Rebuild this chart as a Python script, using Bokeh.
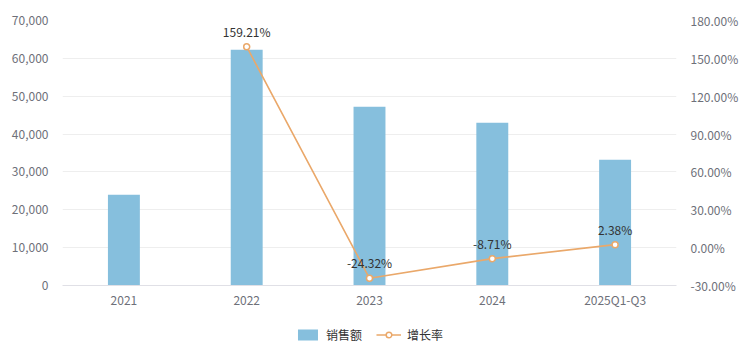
from bokeh.plotting import figure
from bokeh.layouts import column
from bokeh.models import (ColumnDataSource, Range1d, LinearAxis, FixedTicker,
                          NumeralTickFormatter, PrintfTickFormatter, Legend, LegendItem, FactorRange)
from bokeh.embed import file_html
from bokeh.resources import INLINE
from bokeh.core.properties import value

years = ["2021", "2022", "2023", "2024", "2025Q1-Q3"]
sales = [24000, 62300, 47200, 43000, 33200]
growth = [None, 159.21, -24.32, -8.71, 2.38]
series_names = ["销售额", "增长率"]

FONT = "Noto Sans CJK SC"
BAR_COLOR = "#86bfdd"
LINE_COLOR = "#eaa86a"
TEXT_COLOR = "#6e7079"

p = figure(x_range=FactorRange(*years), y_range=Range1d(0, 70000),
           frame_width=614, frame_height=265,
           min_border_left=62, min_border_right=80, min_border_top=20, min_border_bottom=38,
           output_backend="svg", toolbar_location=None, tools="")
p.outline_line_color = None
p.background_fill_color = "white"
p.border_fill_color = "white"

p.extra_y_ranges = {"pct": Range1d(-30, 180)}

bar_src = ColumnDataSource(dict(x=years, y=sales))
p.vbar(x="x", top="y", width=0.26, source=bar_src, fill_color=BAR_COLOR, line_color=None)

gx = [y for y, g in zip(years, growth) if g is not None]
gy = [g for g in growth if g is not None]
glabels = ["%.2f%%" % g for g in gy]
line_src = ColumnDataSource(dict(x=gx, y=gy, t=glabels))
p.line(x="x", y="y", source=line_src, y_range_name="pct", line_color=LINE_COLOR, line_width=1.6)
p.scatter(x="x", y="y", source=line_src, y_range_name="pct", size=6,
          fill_color="white", line_color=LINE_COLOR, line_width=1.5)
p.text(x="x", y="y", text="t", source=line_src, y_range_name="pct",
       text_align="center", text_baseline="bottom", y_offset=-7,
       text_font=value(FONT), text_font_size="12px", text_color="#333333")

# left axis
yax = p.yaxis[0]
yax.ticker = FixedTicker(ticks=list(range(0, 70001, 10000)))
yax.formatter = NumeralTickFormatter(format="0,0")
yax.axis_line_color = None
yax.major_tick_line_color = None
yax.minor_tick_line_color = None
yax.major_label_text_font = FONT
yax.major_label_text_font_size = "12px"
yax.major_label_text_color = TEXT_COLOR
yax.major_label_standoff = 8

rax = LinearAxis(y_range_name="pct", ticker=FixedTicker(ticks=list(range(-30, 181, 30))),
                 formatter=PrintfTickFormatter(format="%.2f%%"))
rax.axis_line_color = None
rax.major_tick_line_color = None
rax.minor_tick_line_color = None
rax.major_label_text_font = FONT
rax.major_label_text_font_size = "12px"
rax.major_label_text_color = TEXT_COLOR
rax.major_label_standoff = 8
p.add_layout(rax, "right")

xax = p.xaxis[0]
xax.axis_line_color = "#e0e0e6"
xax.major_tick_line_color = None
xax.major_tick_out = 0
xax.minor_tick_line_color = None
xax.minor_tick_out = 0
xax.major_label_text_font = FONT
xax.major_label_text_font_size = "12px"
xax.major_label_text_color = TEXT_COLOR
xax.major_label_standoff = 5

p.xgrid.grid_line_color = None
p.ygrid.grid_line_color = "#eeeeee"
p.ygrid.ticker = FixedTicker(ticks=list(range(0, 70001, 10000)))

# legend strip below the chart: same series, kept outside this strip's visible range
lf = figure(width=756, height=30, min_border_left=0, min_border_right=0,
            min_border_top=0, min_border_bottom=8,
            x_range=FactorRange(*years), y_range=Range1d(1e6, 1e6 + 1),
            output_backend="svg", toolbar_location=None, tools="")
lf.axis.visible = False
lf.grid.visible = False
lf.outline_line_color = None
lf.border_fill_color = "white"
lb = lf.vbar(x="x", top="y", width=0.0, source=bar_src, fill_color=BAR_COLOR, line_color=None)
ll = lf.line(x="x", y="y", source=line_src, line_color=LINE_COLOR, line_width=1.6)
ls = lf.scatter(x="x", y="y", source=line_src, size=9, fill_color="white",
                line_color=LINE_COLOR, line_width=1.5)
legend = Legend(items=[LegendItem(label=series_names[0], renderers=[lb]),
                       LegendItem(label=series_names[1], renderers=[ll, ls])],
                orientation="horizontal", location="center",
                label_text_font=FONT, label_text_font_size="12px", label_text_color="#333333",
                glyph_width=25, glyph_height=14, spacing=14, label_standoff=6, label_height=14,
                border_line_color=None, background_fill_alpha=0, margin=0, padding=0)
lf.add_layout(legend, "center")

layout = column(p, lf, spacing=0)
open("out.html", "w").write(file_html(layout, INLINE))
